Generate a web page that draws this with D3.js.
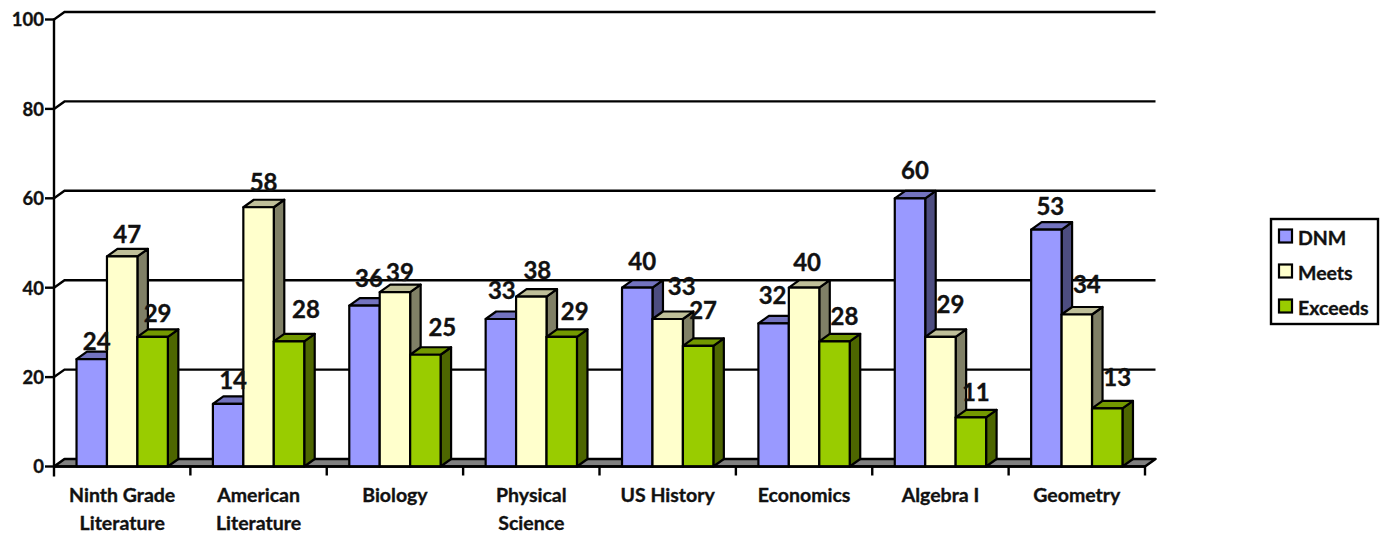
<!DOCTYPE html>
<html><head><meta charset="utf-8">
<script src="https://cdn.jsdelivr.net/npm/d3@7/dist/d3.min.js"></script>
<style>html,body{margin:0;padding:0;background:#fff}svg{display:block}text{font-family:Lato,"Open Sans",sans-serif;font-weight:700;fill:#111;stroke:#111;stroke-width:.35px}</style>
</head><body><svg id="c" width="1387" height="535"></svg>
<script>
const categories=[["Ninth Grade","Literature"],["American","Literature"],["Biology"],["Physical","Science"],["US History"],["Economics"],["Algebra I"],["Geometry"]];
const seriesNames=["DNM","Meets","Exceeds"];
const dnm=[24,14,36,33,40,32,60,53];
const meets=[47,58,39,38,33,40,29,34];
const exceeds=[29,28,25,29,27,28,11,13];
const yTicks=[0,20,40,60,80,100];
const faceColors=["#9999ff","#ffffcc","#99cc00"];
const topColors=["#7373bf","#bfbf99","#739900"];
const sideColors=["#4d4d80","#808066","#4d6600"];
const series=[dnm,meets,exceeds];

const svg=d3.select("#c");
const dx=10.5,dy=-7.5;
const x=d3.scaleBand().domain(d3.range(categories.length)).range([54,1145]);
const inner=d3.scaleBand().domain([0,1,2]).range([0,x.bandwidth()]).paddingOuter(.74).paddingInner(0);
const y=d3.scaleLinear().domain([0,100]).range([466.5,19.5]);
const bw=inner.bandwidth();
const L=x.range()[0],R=x.range()[1];

// back gridlines
svg.append("g").selectAll("path").data(yTicks.filter(t=>t>0)).join("path")
 .attr("d",t=>`M${L},${y(t)}L${L+dx},${y(t)+dy}H${R+dx}`)
 .attr("fill","none").attr("stroke","#000").attr("stroke-width",2.4);
// floor
svg.append("path").attr("d",`M${L},${y(0)}L${L+dx},${y(0)+dy}H${R+dx}L${R},${y(0)}Z`)
 .attr("fill","#808080").attr("stroke","#000").attr("stroke-width",2.6).attr("stroke-linejoin","round");

// bars
const bars=svg.append("g").attr("stroke","#000").attr("stroke-width",2.2).attr("stroke-linejoin","round");
categories.forEach((c,i)=>{
  series.forEach((s,k)=>{
    const x0=x(i)+inner(k),x1=x0+bw,yt=y(s[i]),yb=y(0);
    bars.append("path").attr("fill",sideColors[k]).attr("d",`M${x1},${yb}V${yt}l${dx},${dy}V${yb+dy}Z`);
    bars.append("path").attr("fill",topColors[k]).attr("d",`M${x0},${yt}l${dx},${dy}H${x1+dx}l${-dx},${-dy}Z`);
    bars.append("rect").attr("fill",faceColors[k]).attr("x",x0).attr("y",yt).attr("width",bw).attr("height",yb-yt);
  });
});

// axes
svg.append("path").attr("d",`M${L},${y(100)-1}V${y(0)+10}`).attr("stroke","#000").attr("stroke-width",2.4).attr("fill","none");
svg.append("path").attr("d",`M${L},${y(0)}H${R}`).attr("stroke","#000").attr("stroke-width",2.6).attr("fill","none");
svg.append("g").selectAll("path").data(yTicks).join("path").attr("d",t=>`M${L-9},${y(t)}H${L}`).attr("stroke","#000").attr("stroke-width",2.4);
svg.append("g").selectAll("path").data(d3.range(1,categories.length+1)).join("path").attr("d",i=>`M${x(0)+i*x.step()},${y(0)}v9`).attr("stroke","#000").attr("stroke-width",2.4);
svg.append("g").selectAll("text").data(yTicks).join("text").attr("x",L-10).attr("y",t=>y(t)+.5).attr("dy",".35em").attr("text-anchor","end").attr("font-size",18.5).text(t=>t);
categories.forEach((c,i)=>{
  c.forEach((ln,j)=>svg.append("text").attr("x",x(i)+x.bandwidth()/2).attr("y",501.5+j*28.5).attr("text-anchor","middle").attr("font-size",19.5).text(ln));
});

// data labels: the source chart's labels were hand-placed, so each is nudged from its bar's top
const labelNudges=[
 [[5,-18],[5,-23],[4.5,-27],[1,-28],[5,-26],[-1,-28],[5,-28],[4,-23]],
 [[5,-22],[5,-25],[5,-20],[6,-26],[14,-32],[3,-25],[10,-32],[10,-30]],
 [[5,-23],[17,-32],[17,-27],[13,-25],[5,-35],[10,-25],[5,-25],[10,-31]]
];
categories.forEach((c,i)=>{
  series.forEach((s,k)=>{
    const [nx,ny]=labelNudges[k][i];
    svg.append("text").attr("x",x(i)+inner(k)+bw/2+nx).attr("y",y(s[i])+ny).attr("dy",".35em").attr("text-anchor","middle").attr("font-size",24).text(s[i]);
  });
});

// legend
const lg=svg.append("g");
lg.append("rect").attr("x",1271).attr("y",219).attr("width",107).attr("height",105).attr("fill","#fff").attr("stroke","#000").attr("stroke-width",2.4);
const ly=d3.scalePoint().domain(seriesNames).range([236,306]);
seriesNames.forEach((n,k)=>{
  lg.append("rect").attr("x",1279).attr("y",ly(n)-6.5).attr("width",13).attr("height",13).attr("fill",faceColors[k]).attr("stroke","#000").attr("stroke-width",2.2);
  lg.append("text").attr("x",1298).attr("y",ly(n)+2).attr("dy",".35em").attr("font-size",19.5).text(n);
});
</script></body></html>
